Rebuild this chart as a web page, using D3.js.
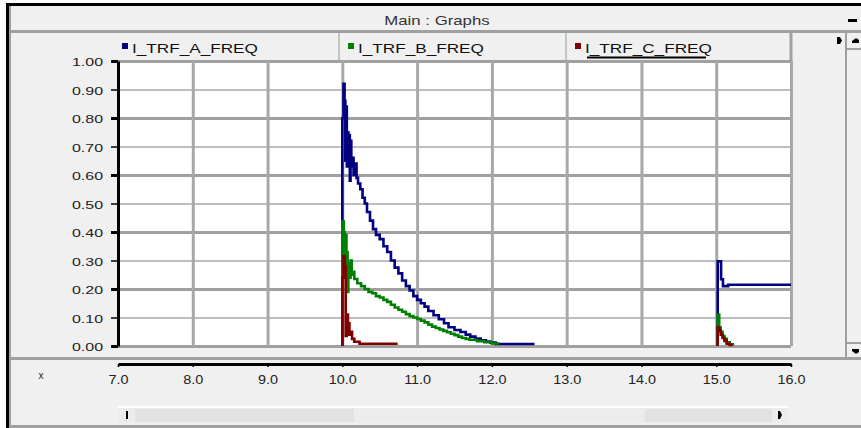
<!DOCTYPE html>
<html>
<head>
<meta charset="utf-8">
<script src="https://cdn.jsdelivr.net/npm/d3@7"></script>
<style>
  html, body { margin: 0; padding: 0; background: #fff; }
  svg { display: block; font-family: "Liberation Sans", Arial, sans-serif; }
</style>
</head>
<body>
<svg id="chart"></svg>
<script>
// 凡例・目盛
var seriesNames = ["I_TRF_A_FREQ", "I_TRF_B_FREQ", "I_TRF_C_FREQ"];
var seriesColors = ["#000080", "#008000", "#800000"];
var xTickValues = [7, 8, 9, 10, 11, 12, 13, 14, 15, 16];
var xTickLabels = ["7.0", "8.0", "9.0", "10.0", "11.0", "12.0", "13.0", "14.0", "15.0", "16.0"];
var yTickValues = [0, 0.1, 0.2, 0.3, 0.4, 0.5, 0.6, 0.7, 0.8, 0.9, 1.0];
var yTickLabels = ["0.00", "0.10", "0.20", "0.30", "0.40", "0.50", "0.60", "0.70", "0.80", "0.90", "1.00"];

// [time, value]   null = gap
var freqA = [
  [10.00, 0], [10.00, 0.80], [10.015, 0.92], [10.03, 0.86], [10.04, 0.65], [10.05, 0.84],
  [10.06, 0.63], [10.07, 0.75], [10.08, 0.64], [10.09, 0.74], [10.10, 0.58], [10.11, 0.72],
  [10.12, 0.63], [10.14, 0.66], [10.15, 0.60], [10.17, 0.64], [10.19, 0.59], [10.21, 0.57],
  [10.24, 0.55], [10.27, 0.52], [10.30, 0.50], [10.33, 0.47], [10.37, 0.44], [10.41, 0.41],
  [10.45, 0.39], [10.50, 0.375], [10.55, 0.35], [10.60, 0.33], [10.65, 0.30], [10.70, 0.275],
  [10.75, 0.255], [10.80, 0.23], [10.85, 0.21], [10.90, 0.195], [10.95, 0.175], [11.00, 0.162],
  [11.05, 0.15], [11.10, 0.138], [11.15, 0.123], [11.22, 0.108], [11.29, 0.094], [11.36, 0.08],
  [11.42, 0.066], [11.50, 0.056], [11.58, 0.049], [11.65, 0.04], [11.71, 0.033], [11.78, 0.026],
  [11.85, 0.02], [11.92, 0.016], [11.98, 0.012], [12.05, 0.007], [12.57, 0.007],
  null,
  [15.02, 0], [15.02, 0.297], [15.065, 0.234], [15.09, 0.21], [15.16, 0.215], [16.00, 0.215]
];
var freqB = [
  [10.00, 0], [10.00, 0.437], [10.02, 0.40], [10.03, 0.28], [10.04, 0.39], [10.055, 0.33],
  [10.07, 0.19], [10.08, 0.29], [10.095, 0.24], [10.11, 0.30], [10.125, 0.25], [10.14, 0.26],
  [10.16, 0.235], [10.20, 0.22], [10.25, 0.21], [10.30, 0.20], [10.35, 0.19], [10.40, 0.185],
  [10.45, 0.175], [10.50, 0.17], [10.55, 0.162], [10.60, 0.155], [10.65, 0.145], [10.70, 0.135],
  [10.75, 0.127], [10.80, 0.12], [10.85, 0.112], [10.90, 0.105], [10.95, 0.10], [11.00, 0.095],
  [11.05, 0.089], [11.10, 0.083], [11.15, 0.075], [11.20, 0.068], [11.25, 0.063], [11.30, 0.058],
  [11.35, 0.053], [11.40, 0.048], [11.45, 0.043], [11.50, 0.038], [11.55, 0.033], [11.60, 0.028],
  [11.65, 0.025], [11.70, 0.022], [11.80, 0.017], [11.90, 0.013], [12.00, 0.009], [12.10, 0.009],
  null,
  [15.02, 0], [15.02, 0.11], [15.04, 0.065], [15.06, 0.05], [15.085, 0.035], [15.11, 0.025],
  [15.14, 0.013], [15.18, 0.006], [15.24, 0.006]
];
var freqC = [
  [10.00, 0], [10.00, 0.24], [10.015, 0.315], [10.03, 0.28], [10.045, 0.035], [10.06, 0.11],
  [10.075, 0.06], [10.085, 0.08], [10.095, 0.04], [10.11, 0.05], [10.13, 0.025], [10.16, 0.015],
  [10.23, 0.008], [10.74, 0.008],
  null,
  [15.02, 0], [15.02, 0.066], [15.04, 0.055], [15.06, 0.04], [15.085, 0.028], [15.11, 0.018],
  [15.14, 0.008], [15.18, 0.004], [15.22, 0.004]
];

var W = 861, H = 428;
var plot = { left: 118, right: 791, top: 61, bottom: 346 };

var svg = d3.select("#chart").attr("width", W).attr("height", H);

// 横に伸びた文字を再現
function stretch(sel, k) {
  sel.each(function () {
    var w = this.getComputedTextLength();
    d3.select(this).attr("textLength", w * k).attr("lengthAdjust", "spacingAndGlyphs");
  });
}

// ウィンドウ枠
svg.append("rect").attr("x", 6).attr("y", 3).attr("width", W - 6).attr("height", H - 3).attr("fill", "#f0f0f0");
svg.append("rect").attr("x", 6).attr("y", 3).attr("width", W - 6).attr("height", 3).attr("fill", "#000");
svg.append("rect").attr("x", 6).attr("y", 3).attr("width", 3).attr("height", H - 3).attr("fill", "#000");
svg.append("rect").attr("x", 9).attr("y", 6).attr("width", 2).attr("height", H - 6).attr("fill", "#a0a0a0");
svg.append("rect").attr("x", 9).attr("y", 30).attr("width", W - 9).attr("height", 3).attr("fill", "#a0a0a0");
svg.append("rect").attr("x", 848).attr("y", 19).attr("width", 9).attr("height", 3).attr("fill", "#000");

var title = svg.append("text").attr("x", 437).attr("y", 25).attr("text-anchor", "middle")
  .attr("font-size", 13).attr("fill", "#333").text("Main : Graphs");
stretch(title, 1.29);

// 右スクロールバー
svg.append("rect").attr("x", 845).attr("y", 33).attr("width", 2).attr("height", 325).attr("fill", "#a0a0a0");
svg.append("rect").attr("x", 847).attr("y", 48).attr("width", 14).attr("height", 2).attr("fill", "#a0a0a0");
svg.append("rect").attr("x", 847).attr("y", 342).attr("width", 14).attr("height", 2).attr("fill", "#a0a0a0");
svg.append("path").attr("d", "M852,43 L859,43 L859,40 L856,38 L852,41 Z").attr("fill", "#000");
svg.append("path").attr("d", "M852,349 L859,349 L859,352 L856,354 L852,351 Z").attr("fill", "#000");
svg.append("path").attr("d", "M837,37 L840,37 L842,40.5 L840,44 L837,44 Z").attr("fill", "#000");

// 凡例
var legend = svg.append("g");
var cellX = [113, 339, 566];
legend.selectAll("line.cell").data([339, 566]).enter().append("line")
  .attr("x1", function (d) { return d; }).attr("x2", function (d) { return d; })
  .attr("y1", 33).attr("y2", 60).attr("stroke", "#c4c4c4").attr("stroke-width", 2);
legend.append("line").attr("x1", 791).attr("x2", 791).attr("y1", 33).attr("y2", 61)
  .attr("stroke", "#a0a0a0").attr("stroke-width", 3);
var items = legend.selectAll("g.item").data(seriesNames).enter().append("g")
  .attr("transform", function (d, i) { return "translate(" + (cellX[i] + 9) + ",0)"; });
items.append("rect").attr("x", 0).attr("y", 43).attr("width", 6).attr("height", 6)
  .attr("fill", function (d, i) { return seriesColors[i]; });
var legendText = items.append("text").attr("x", 10).attr("y", 53).attr("font-size", 13)
  .attr("fill", "#111").text(function (d) { return d; });
stretch(legendText, 1.32);
legend.append("line").attr("x1", 587).attr("x2", 706).attr("y1", 57.5).attr("y2", 57.5)
  .attr("stroke", "#000").attr("stroke-width", 2);

// スケール
var x = d3.scaleLinear().domain([7, 16]).range([plot.left, plot.right]);
var y = d3.scaleLinear().domain([0, 1]).range([plot.bottom, plot.top]);

svg.append("rect").attr("x", plot.left).attr("y", plot.top)
  .attr("width", plot.right - plot.left).attr("height", plot.bottom - plot.top).attr("fill", "#fff");

// グリッド
svg.append("g").attr("transform", "translate(" + plot.left + ",0)")
  .call(d3.axisLeft(y).tickValues(yTickValues).tickSize(-(plot.right - plot.left)).tickFormat(""))
  .call(function (g) {
    g.select(".domain").remove();
    g.selectAll("line")
      .attr("stroke", function (d, i) { return i % 2 === 0 ? "#a0a0a0" : "#a8a8a8"; })
      .attr("stroke-width", function (d, i) { return i % 2 === 0 ? 3 : 1.5; });
  });
svg.append("g").attr("transform", "translate(0," + plot.bottom + ")")
  .call(d3.axisBottom(x).tickValues(xTickValues.slice(1)).tickSize(-(plot.bottom - plot.top)).tickFormat(""))
  .call(function (g) {
    g.select(".domain").remove();
    g.selectAll("line").attr("stroke", "#a8a8a8").attr("stroke-width", 3);
  });

// 線
var line = d3.line()
  .defined(function (d) { return d !== null; })
  .x(function (d) { return x(d[0]); })
  .y(function (d) { return y(d[1]); })
  .curve(d3.curveStepAfter);

[freqA, freqB, freqC].forEach(function (s, i) {
  svg.append("path").datum(s)
    .attr("d", line)
    .attr("fill", "none")
    .attr("stroke", seriesColors[i])
    .attr("stroke-width", 2.6);
});

// Y軸
var yAxis = svg.append("g").attr("transform", "translate(" + plot.left + ",0)")
  .call(d3.axisLeft(y).tickValues(yTickValues).tickSize(7).tickSizeOuter(0).tickPadding(8)
    .tickFormat(function (d, i) { return yTickLabels[i]; }));
yAxis.select(".domain").attr("stroke", "#000").attr("stroke-width", 3);
yAxis.selectAll(".tick line").attr("stroke", "#000")
  .attr("stroke-width", function (d, i) { return i % 2 === 0 ? 3 : 1.5; });
yAxis.selectAll(".tick text").attr("font-size", 11).attr("fill", "#222").attr("dy", "0.45em");
stretch(yAxis.selectAll(".tick text"), 1.45);

// 下部パネル
svg.append("rect").attr("x", 9).attr("y", 357).attr("width", W - 9).attr("height", 3).attr("fill", "#a0a0a0");

// X軸
var xAxis = svg.append("g").attr("transform", "translate(0,364)")
  .call(d3.axisBottom(x).tickValues(xTickValues).tickSize(3).tickSizeOuter(0).tickPadding(8)
    .tickFormat(function (d, i) { return xTickLabels[i]; }));
xAxis.select(".domain").attr("stroke", "#000").attr("stroke-width", 3);
xAxis.selectAll(".tick line").attr("stroke", "#000").attr("stroke-width", 1.5);
xAxis.selectAll(".tick text").attr("font-size", 12).attr("fill", "#222");
stretch(xAxis.selectAll(".tick text"), 1.2);

svg.append("text").attr("x", 41).attr("y", 379).attr("text-anchor", "middle")
  .attr("font-size", 10).attr("fill", "#222").text("x");

// 下スクロールバー
svg.append("rect").attr("x", 118).attr("y", 406).attr("width", 670).attr("height", 2).attr("fill", "#fff");
svg.append("rect").attr("x", 118).attr("y", 408).attr("width", 670).attr("height", 15).attr("fill", "#ececec");
svg.append("rect").attr("x", 135).attr("y", 409).attr("width", 219).attr("height", 13).attr("fill", "#e2e2e2");
svg.append("rect").attr("x", 645).attr("y", 409).attr("width", 127).attr("height", 13).attr("fill", "#e2e2e2");
svg.append("rect").attr("x", 126).attr("y", 411).attr("width", 2).attr("height", 8).attr("fill", "#000");
svg.append("path").attr("d", "M778,411 L780,411 L782,415 L780,419 L778,419 Z").attr("fill", "#000");
svg.append("rect").attr("x", 9).attr("y", 425).attr("width", W - 9).attr("height", 3).attr("fill", "#a0a0a0");
</script>
</body>
</html>
